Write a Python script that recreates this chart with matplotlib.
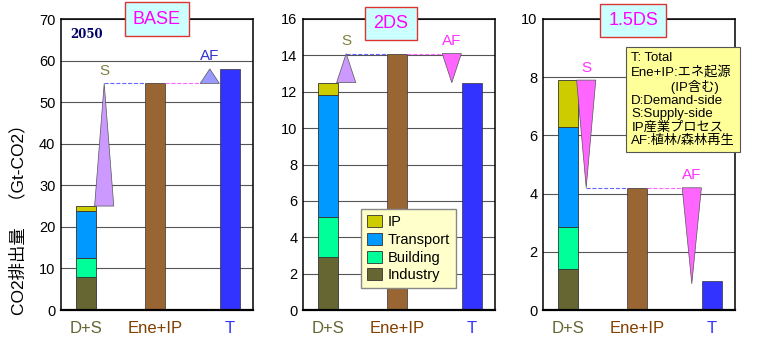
import numpy as np
import matplotlib
matplotlib.use('Agg')
import matplotlib.pyplot as plt

plt.rcParams['font.family'] = ['Liberation Sans', 'Noto Sans CJK JP', 'DejaVu Sans']

scenarios = ['BASE', '2DS', '1.5DS']
ymax = [70, 16, 10]
ystep = [10, 2, 2]

# stacked D+S components per scenario
industry = [8.0, 2.9, 1.4]
building = [4.5, 2.2, 1.45]
transport = [11.3, 6.7, 3.45]
ip = [1.2, 0.7, 1.6]
ene_ip = [54.5, 14.1, 4.2]
total = [58.0, 12.5, 1.0]

categories = ['D+S', 'Ene+IP', 'T']
cat_colors = ['#666633', '#804000', '#3333FF']
seg_names = ['Industry', 'Building', 'Transport', 'IP']
seg_colors = ['#666633', '#00FF99', '#0099FF', '#CCCC00']

fig = plt.figure(figsize=(7.68, 3.47), dpi=100)
lefts = [61 / 768, 303 / 768, 543 / 768]
w, b, h = 192 / 768, 37 / 347, 291 / 347
xpos = [0.13, 0.49, 0.88]
s_x, af_x, bw = 0.225, 0.775, 0.1
title_pos = [(0.5, 1.0), (0.458, 0.985), (0.471, 0.995)]


def wedge(ax, x, start, end, color):
    ax.fill([x - bw / 2, x + bw / 2, x], [start, start, end], color=color,
            ec='#555555', lw=0.5, zorder=3)


for i, name in enumerate(scenarios):
    ax = fig.add_axes([lefts[i], b, w, h])
    ax.set_xlim(0, 1)
    ax.set_ylim(0, ymax[i])
    ax.set_yticks(np.arange(0, ymax[i] + 0.1, ystep[i]))
    ax.yaxis.grid(True, color='#555555', lw=0.8)
    ax.set_axisbelow(True)
    ax.tick_params(axis='y', length=0, labelsize=10.5, pad=4)
    ax.tick_params(axis='x', length=0, pad=8)

    bottom = 0
    segs = [industry[i], building[i], transport[i], ip[i]]
    for v, c, n in zip(segs, seg_colors, seg_names):
        ax.bar(xpos[0], v, bw, bottom=bottom, color=c, ec='#333333', lw=0.6,
               label=n, zorder=2)
        bottom += v
    ds = bottom
    ax.bar(xpos[1], ene_ip[i], bw, color='#996633', ec='#333333', lw=0.5, zorder=2)
    ax.bar(xpos[2], total[i], bw, color='#3333FF', ec='#333333', lw=0.5, zorder=2)

    # supply-side change and afforestation change
    s_col = '#CC99FF' if ene_ip[i] > ds else '#FF66FF'
    af_col = '#9999FF' if total[i] > ene_ip[i] else '#FF66FF'
    wedge(ax, s_x, ds, ene_ip[i], s_col)
    wedge(ax, af_x, ene_ip[i], total[i] if i < 2 else total[i] - 0.1, af_col)
    ax.plot([s_x, xpos[1] - bw / 2], [ene_ip[i]] * 2, ls='--', color='#6666FF',
            lw=0.8, zorder=3)
    ax.plot([xpos[1] + bw / 2, af_x - bw / 2], [ene_ip[i]] * 2, ls='--',
            color='#FF66FF', lw=0.8, zorder=3)

    s_lab = '#808040' if i < 2 else '#FF33FF'
    af_lab = '#3333CC' if i == 0 else '#FF33FF'
    ax.annotate('S', (s_x, max(ds, ene_ip[i])), xytext=(0, 4),
                textcoords='offset points', ha='center', va='bottom',
                color=s_lab, fontsize=11)
    ax.annotate('AF', (af_x, max(ene_ip[i], total[i])), xytext=(0, 4),
                textcoords='offset points', ha='center', va='bottom',
                color=af_lab, fontsize=11)

    ax.set_xticks(xpos)
    ax.set_xticklabels(categories, fontsize=12)
    for lab, c in zip(ax.get_xticklabels(), cat_colors):
        lab.set_color(c)
    for sp in ax.spines.values():
        sp.set_linewidth(1.1)
    ax.spines['bottom'].set_linewidth(1.6)

    tx, ty = title_pos[i]
    ax.text(tx, ty, name, transform=ax.transAxes, ha='center', va='center',
            color='#FF00FF', fontsize=13, zorder=10, clip_on=False,
            bbox=dict(boxstyle='square,pad=0.45', fc='#CCFFFF', ec='#DD3333', lw=1))

    if i == 0:
        ax.text(0.05, 0.948, '2050', transform=ax.transAxes, ha='left', va='center',
                color='#000066', fontsize=8.5, fontweight='bold', family='DejaVu Serif')
    if i == 1:
        hs, ls_ = ax.get_legend_handles_labels()
        leg = ax.legend(hs[::-1], ls_[::-1], loc='lower left',
                        bbox_to_anchor=(0.265, 0.05), fontsize=10.5, frameon=True,
                        fancybox=False, handlelength=1.0, handleheight=0.9,
                        handletextpad=0.4, labelspacing=0.25, borderpad=0.4)
        leg.get_frame().set_facecolor('#FFFFCC')
        leg.get_frame().set_edgecolor('#888888')
        leg.get_frame().set_alpha(1)
        leg.set_zorder(5)
    if i == 2:
        note = ('T: Total\nEne+IP:エネ起源\n　　　(IP含む)\nD:Demand-side\n'
                'S:Supply-side\nIP産業プロセス\nAF:植林/森林再生')
        ax.text(0.46, 0.885, note, transform=ax.transAxes, ha='left', va='top',
                fontsize=9.5, linespacing=1.12, zorder=10, clip_on=False,
                bbox=dict(boxstyle='square,pad=0.4', fc='#FFFF99', ec='#555555', lw=0.8))

fig.text(18 / 768, 0.38, 'CO2排出量　（Gt-CO2）', rotation=90, ha='center',
         va='center', fontsize=12.5)

fig.savefig('out.png', dpi=100)
